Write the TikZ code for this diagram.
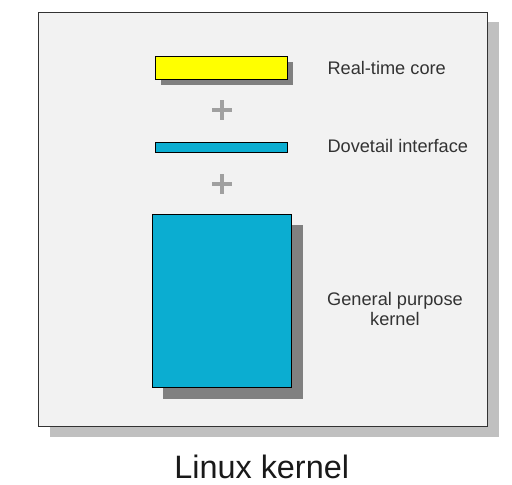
\documentclass[tikz,border=0pt]{standalone}
\usepackage{fontspec}
\setmainfont{Liberation Sans}
\usetikzlibrary{shadows}
\definecolor{framebg}{HTML}{F2F2F2}
\definecolor{frameshadow}{HTML}{C0C0C0}
\definecolor{boxshadow}{HTML}{808080}
\definecolor{rtyellow}{HTML}{FFFF00}
\definecolor{kblue}{HTML}{0BADD1}
\definecolor{plusgray}{HTML}{A0A0A0}
\definecolor{labelgray}{HTML}{333333}
\tikzset{
  frame/.style={draw=black!80, line width=1pt, fill=framebg, inner sep=0pt,
    drop shadow={shadow xshift=11pt, shadow yshift=-10pt, fill=frameshadow, opacity=1}},
  layerbox/.style={draw=black, line width=1pt, inner sep=0pt},
  shadowed/.style={drop shadow={shadow xshift=#1, shadow yshift=-#1, fill=boxshadow, opacity=1}},
  plusmark/.style={inner sep=0pt, minimum size=20pt,
    path picture={\draw[line width=4.5pt, plusgray]
      (path picture bounding box.north) -- (path picture bounding box.south)
      (path picture bounding box.west) -- (path picture bounding box.east);}},
  lbl/.style={text=labelgray, inner sep=0pt, font=\fontsize{18.2}{20}\selectfont},
  title/.style={text=black!90, inner sep=0pt, font=\fontsize{32.4}{36}\selectfont}
}
\begin{document}
\begin{tikzpicture}[x=1pt, y=-1pt]
\useasboundingbox (0,0) rectangle (512,485);
\node[frame, minimum width=449pt, minimum height=414.7pt] (frame) at (263.2,219.35) {};
\node[layerbox, shadowed=5.5pt, fill=rtyellow, minimum width=132pt, minimum height=22.6pt] (rt) at (221.7,68) {};
\node[plusmark] (plusa) at (222,110) {};
\node[layerbox, fill=kblue, minimum width=132pt, minimum height=9.3pt] (dove) at (221.7,147.35) {};
\node[plusmark] (plusb) at (222,184) {};
\node[layerbox, shadowed=11pt, fill=kblue, minimum width=139.4pt, minimum height=173.7pt] (gpk) at (222,300.85) {};
\node[lbl, anchor=base west] (rtl) at (327.3,74) {Real-time core};
\node[lbl, anchor=base west] (dovel) at (327.3,152.3) {Dovetail interface};
\node[lbl, anchor=base, align=center] (gpkl) at (395,325) {General purpose\\kernel};
\node[title, anchor=base] (ttl) at (261.7,478.3) {Linux kernel};
\end{tikzpicture}
\end{document}
